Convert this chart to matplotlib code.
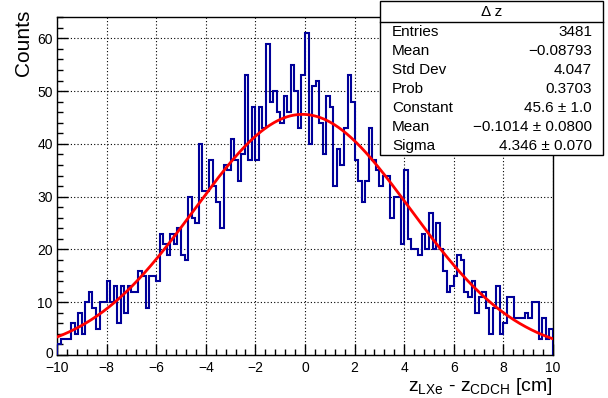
import matplotlib
matplotlib.use('Agg')
import matplotlib.pyplot as plt
import matplotlib.transforms as mtransforms
import numpy as np
from matplotlib.ticker import MultipleLocator
from matplotlib.patches import Rectangle
from matplotlib.lines import Line2D

plt.rcParams['font.family'] = ['Liberation Sans', 'DejaVu Sans']
plt.rcParams['mathtext.fontset'] = 'custom'
plt.rcParams['mathtext.rm'] = 'Liberation Sans'
plt.rcParams['mathtext.it'] = 'Liberation Sans:italic'
plt.rcParams['axes.unicode_minus'] = True

# ---- data ----
x_range = (-10.0, 10.0)
counts = [
    2, 3, 3, 3, 6, 4, 8, 4, 10, 12,
    9, 5, 10, 10, 14, 10, 13, 6, 13, 8,
    13, 12, 12, 16, 15, 9, 15, 15, 14, 23,
    21, 19, 23, 21, 24, 19, 18, 30, 26, 25,
    40, 31, 31, 37, 32, 29, 24, 36, 35, 41,
    37, 33, 38, 53, 37, 47, 37, 47, 43, 59,
    48, 50, 46, 44, 49, 46, 55, 50, 43, 53,
    61, 40, 51, 52, 44, 38, 49, 47, 32, 39,
    36, 43, 53, 48, 37, 33, 29, 33, 43, 37,
    35, 32, 34, 34, 26, 30, 30, 21, 35, 22,
    20, 20, 19, 23, 20, 27, 20, 25, 20, 16,
    12, 13, 15, 19, 18, 12, 11, 14, 8, 11,
    12, 9, 4, 9, 13, 4, 6, 11, 11, 7,
    7, 7, 8, 7, 10, 10, 3, 7, 3, 5,
]
fit_const = 45.6
fit_mean = -0.1014
fit_sigma = 4.346

stat_title = "\u0394 z"
stat_labels = ["Entries", "Mean", "Std Dev", "Prob", "Constant", "Mean", "Sigma"]
stat_values = ["3481", "\u22120.08793", "4.047", "0.3703",
               "45.6 \u00b1 1.0", "\u22120.1014 \u00b1 0.0800", "4.346 \u00b1 0.070"]

xlabel = r"$\mathrm{z_{LXe}}$ - $\mathrm{z_{CDCH}}$ [cm]"
ylabel = "Counts"

# ---- figure ----
W, H = 608, 398
fig = plt.figure(figsize=(W / 100, H / 100), dpi=100)
ax = fig.add_axes([57 / W, (H - 355) / H, 496 / W, 338 / H])

edges = np.linspace(x_range[0], x_range[1], len(counts) + 1)
ax.stairs(counts, edges, color='#000099', lw=1.5, baseline=0, zorder=3)

xf = np.linspace(x_range[0], x_range[1], 600)
ax.plot(xf, fit_const * np.exp(-0.5 * ((xf - fit_mean) / fit_sigma) ** 2),
        color='#ff0000', lw=2.0, zorder=4)

ax.set_xlim(*x_range)
ax.set_ylim(0, 1.05 * max(counts))
ax.xaxis.set_major_locator(MultipleLocator(2))
ax.xaxis.set_minor_locator(MultipleLocator(0.4))
ax.yaxis.set_major_locator(MultipleLocator(10))
ax.yaxis.set_minor_locator(MultipleLocator(2))
ax.tick_params(which='both', direction='in', top=False, right=False, width=1, colors='black')
ax.tick_params(which='major', length=8)
ax.tick_params(which='minor', length=4.5)
ax.tick_params(axis='x', which='major', labelsize=10, pad=4.5)
ax.tick_params(axis='y', which='major', labelsize=10, pad=3)
ax.grid(True, which='major', ls=(0, (1, 2)), color='black', lw=0.8)
for s in ax.spines.values():
    s.set_linewidth(1.0)

fig.text(24 / W, 1 - 10 / H, ylabel, rotation=90, ha='center', va='top', fontsize=15)
fig.text(553 / W, 1 - 391 / H, xlabel, ha='right', va='baseline', fontsize=14)

# ---- stats box ----
bl, br, bt, bb = 380, 603, 1, 155
fig.add_artist(Rectangle((bl / W, 1 - bb / H), (br - bl) / W, (bb - bt) / H,
                         transform=fig.transFigure, facecolor='white',
                         edgecolor='black', lw=1.0, zorder=5))
fig.add_artist(Line2D([bl / W, br / W], [1 - 22 / H, 1 - 22 / H],
                      transform=fig.transFigure, color='black', lw=1.0, zorder=6))
fig.text((bl + br) / 2 / W, 1 - 12 / H, stat_title, ha='center', va='center',
         fontsize=11, zorder=7)
for i, (lab, val) in enumerate(zip(stat_labels, stat_values)):
    yc = 32 + 19 * i
    fig.text(392 / W, 1 - yc / H, lab, ha='left', va='center', fontsize=11, zorder=7)
    fig.text(592 / W, 1 - yc / H, val, ha='right', va='center', fontsize=11, zorder=7)

# nudge the "0" y tick label up slightly so it clears the "-10" x label
fig.canvas.draw()
for tick in ax.yaxis.get_major_ticks():
    if abs(tick.get_loc()) < 1e-9:
        lab = tick.label1
        lab.set_transform(lab.get_transform() +
                          mtransforms.ScaledTranslation(0, 2 / 100, fig.dpi_scale_trans))

fig.savefig('out.png', dpi=100)
